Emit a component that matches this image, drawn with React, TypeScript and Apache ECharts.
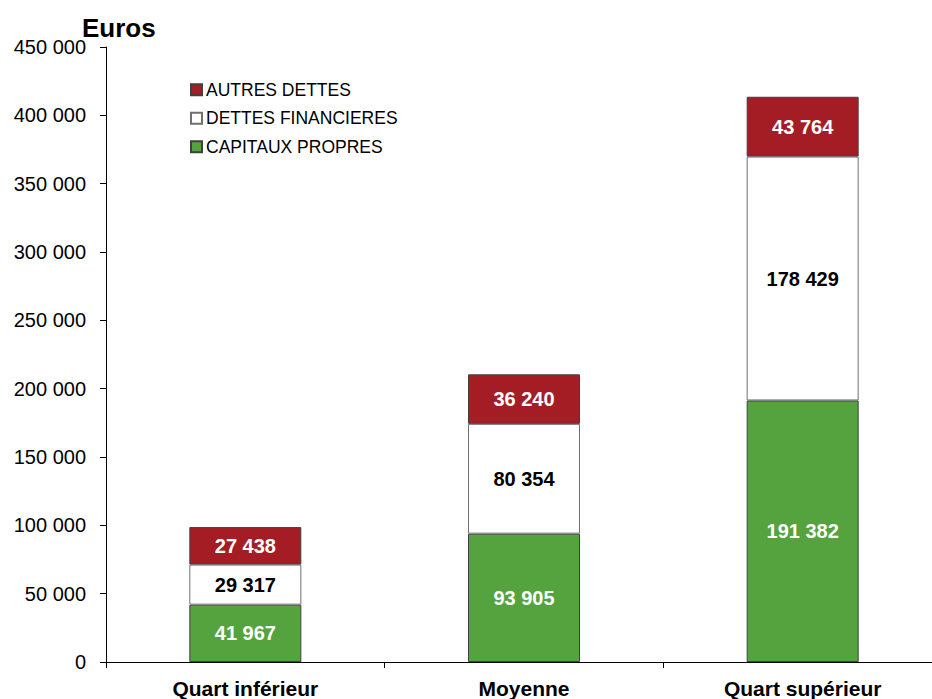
import React, { useEffect, useRef } from "react";
import * as echarts from "echarts";

const categories = ["Quart inférieur", "Moyenne", "Quart supérieur"];
const capitauxPropres = [41967, 93905, 191382];
const dettesFinancieres = [29317, 80354, 178429];
const autresDettes = [27438, 36240, 43764];

const fmt = (v: number) => String(Math.round(v)).replace(/\B(?=(\d{3})+(?!\d))/g, " ");
const FONT = "'Liberation Sans', Arial, sans-serif";

export default function App() {
  const ref = useRef<HTMLDivElement>(null);
  useEffect(() => {
    const chart = echarts.init(ref.current!, null, { renderer: "svg" });
    const labelBase = {
      show: true,
      position: "inside",
      fontFamily: FONT,
      fontWeight: "bold",
      fontSize: 20,
      formatter: (p: any) => fmt(p.value),
    };
    chart.setOption({
      animation: false,
      backgroundColor: "#ffffff",
      textStyle: { fontFamily: FONT },
      title: {
        text: "Euros",
        left: 77,
        top: 10,
        textStyle: { fontFamily: FONT, fontWeight: "bold", fontSize: 26, color: "#000" },
      },
      legend: {
        orient: "vertical",
        left: 185,
        top: 75,
        itemWidth: 11,
        itemHeight: 11,
        itemGap: 9,
        icon: "rect",
        data: ["AUTRES DETTES", "DETTES FINANCIERES", "CAPITAUX PROPRES"],
        textStyle: {
          fontFamily: FONT,
          fontSize: 17.5,
          lineHeight: 19.5,
          color: "#000",
          padding: [0, 0, 0, -1],
        },
      },
      grid: { left: 106, right: 8, top: 47, bottom: 36, containLabel: false },
      xAxis: {
        type: "category",
        data: categories,
        axisLine: { lineStyle: { color: "#000", width: 1 } },
        axisTick: { show: true, length: 6, lineStyle: { color: "#000" } },
        axisLabel: { fontFamily: FONT, fontWeight: "bold", fontSize: 21, color: "#000", margin: 16 },
      },
      yAxis: {
        type: "value",
        min: 0,
        max: 450000,
        interval: 50000,
        splitLine: { show: false },
        axisLine: { show: true, lineStyle: { color: "#000", width: 1 } },
        axisTick: { show: true, length: 6, lineStyle: { color: "#000" } },
        axisLabel: {
          fontFamily: FONT,
          fontSize: 20,
          color: "#000",
          margin: 20,
          formatter: (v: number) => fmt(v),
        },
      },
      series: [
        {
          name: "CAPITAUX PROPRES",
          type: "bar",
          stack: "total",
          data: capitauxPropres,
          barWidth: 112,
          itemStyle: { color: "#54A33F", borderColor: "#404040", borderWidth: 1 },
          label: { ...labelBase, color: "#fff" },
        },
        {
          name: "DETTES FINANCIERES",
          type: "bar",
          stack: "total",
          data: dettesFinancieres,
          barWidth: 112,
          itemStyle: { color: "#ffffff", borderColor: "#707070", borderWidth: 1 },
          label: { ...labelBase, color: "#000" },
        },
        {
          name: "AUTRES DETTES",
          type: "bar",
          stack: "total",
          data: autresDettes,
          barWidth: 112,
          itemStyle: { color: "#A51D24", borderColor: "#404040", borderWidth: 1 },
          label: { ...labelBase, color: "#fff" },
        },
      ],
    });
    return () => chart.dispose();
  }, []);
  return (
    <div
      style={{
        position: "fixed",
        left: 0,
        top: 0,
        width: 932,
        height: 699,
        overflow: "hidden",
        background: "#fff",
      }}
    >
      <div ref={ref} style={{ width: 950, height: 699 }} />
    </div>
  );
}
